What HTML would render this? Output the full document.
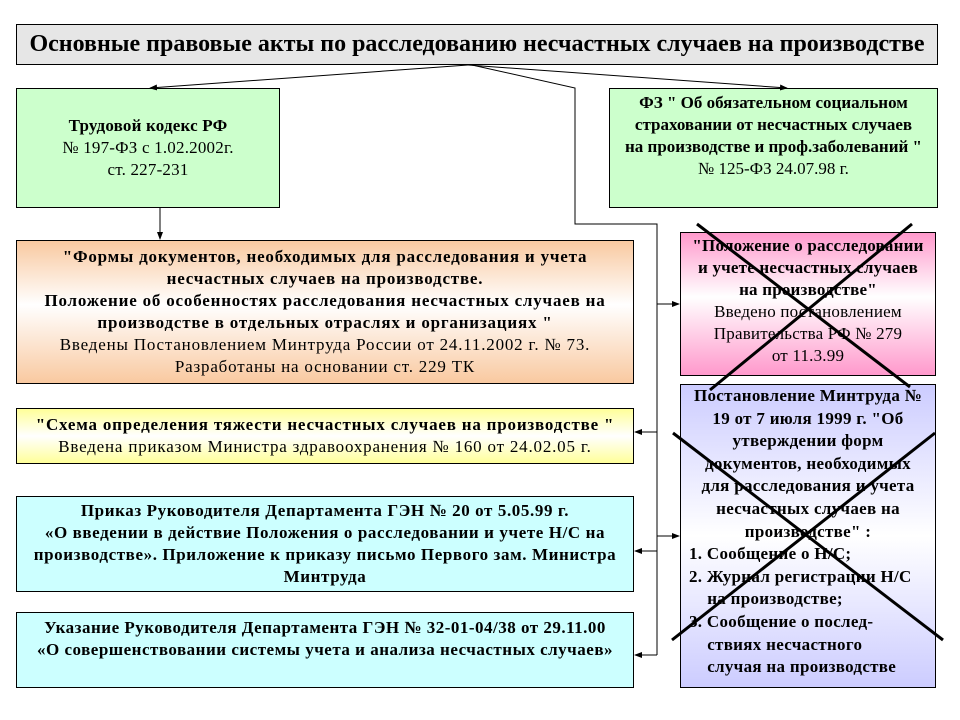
<!DOCTYPE html>
<html><head><meta charset="utf-8"><style>
body{margin:0;width:960px;height:720px;background:#fff;position:relative;font-family:"Liberation Serif","DejaVu Serif",serif;overflow:hidden}
.b{position:absolute;box-sizing:border-box;border:1px solid #000;text-align:center;font-size:17px;letter-spacing:0.8px;line-height:22px;color:#000;display:flex;flex-direction:column;justify-content:center;white-space:nowrap}
.g{background:#ccffcc}
b{font-weight:bold}
</style></head><body>
<div class="b" style="left:16px;top:24px;width:922px;height:41px;background:#e6e6e6;font-size:24px;letter-spacing:0px;font-weight:bold;display:block;line-height:38px">Основные правовые акты по расследованию несчастных случаев на производстве</div>
<div class="b g" style="left:16px;top:88px;width:264px;height:120px;letter-spacing:0.2px"><b>Трудовой кодекс РФ</b>№ 197-ФЗ с 1.02.2002г.<br>ст. 227-231</div>
<div class="b g" style="left:609px;top:88px;width:329px;height:120px;justify-content:flex-start;padding-top:3px;letter-spacing:0px"><b>ФЗ " Об обязательном социальном<br>страховании от несчастных случаев<br>на производстве и проф.заболеваний "</b>№ 125-ФЗ 24.07.98 г.</div>
<div class="b" style="left:16px;top:240px;width:618px;height:144px;background:linear-gradient(#f9c9a0,#fff 45%,#f9c9a0)"><b>"Формы документов, необходимых для расследования и учета<br>несчастных случаев на производстве.<br>Положение об особенностях расследования несчастных случаев на<br>производстве в отдельных отраслях и организациях "</b>Введены Постановлением Минтруда России от 24.11.2002 г. № 73.<br>Разработаны на основании ст. 229 ТК</div>
<div class="b" style="left:16px;top:408px;width:618px;height:56px;background:linear-gradient(#ffff99,#fff 50%,#ffff99)"><b>"Схема определения тяжести несчастных случаев на производстве "</b>Введена приказом Министра здравоохранения № 160 от 24.02.05 г.</div>
<div class="b" style="left:16px;top:496px;width:618px;height:96px;background:#ccffff;font-weight:bold;letter-spacing:0.6px">Приказ Руководителя Департамента ГЭН № 20 от 5.05.99 г.<br>«О введении в действие Положения о расследовании и учете Н/С на<br>производстве». Приложение к приказу письмо Первого зам. Министра<br>Минтруда</div>
<div class="b" style="left:16px;top:612px;width:618px;height:76px;background:#ccffff;font-weight:bold;justify-content:flex-start;padding-top:4px;letter-spacing:0.5px">Указание Руководителя Департамента ГЭН № 32-01-04/38 от 29.11.00<br>«О совершенствовании системы учета и анализа несчастных случаев»</div>
<div class="b" style="left:680px;top:232px;width:256px;height:144px;background:linear-gradient(#ff99cc,#fff 45%,#ff99cc);justify-content:flex-start;padding-top:2px;letter-spacing:0.2px"><b>"Положение о расследовании<br>и учете несчастных случаев<br>на производстве"</b>Введено постановлением<br>Правительства РФ № 279<br>от 11.3.99</div>
<div class="b" style="left:680px;top:384px;width:256px;height:304px;background:linear-gradient(#ccccff,#fff 50%,#ccccff);font-weight:bold;justify-content:flex-start;padding-top:0px;line-height:22.6px;letter-spacing:0.3px">Постановление Минтруда №<br>19 от 7 июля 1999 г. "Об<br>утверждении форм<br>документов, необходимых<br>для расследования и учета<br>несчастных случаев на<br>производстве" :
<div style="text-align:left;padding-left:8px">1. Сообщение о Н/С;<br>2. Журнал регистрации Н/С<br>&nbsp;&nbsp;&nbsp;&nbsp;на производстве;<br>3. Сообщение о послед-<br>&nbsp;&nbsp;&nbsp;&nbsp;ствиях несчастного<br>&nbsp;&nbsp;&nbsp;&nbsp;случая на производстве</div></div>
<svg width="960" height="720" style="position:absolute;left:0;top:0">
<defs><marker id="a" markerWidth="8" markerHeight="8" refX="7" refY="4" orient="auto"><path d="M0,1 L8,4 L0,7z" fill="#000"/></marker></defs>
<g stroke="#000" stroke-width="1" fill="none">
<line x1="468" y1="65" x2="150" y2="88" marker-end="url(#a)"/>
<line x1="468" y1="65" x2="787" y2="88" marker-end="url(#a)"/>
<polyline points="472,65 575,88 575,224 657,224 657,655"/>
<line x1="160" y1="208" x2="160" y2="239" marker-end="url(#a)"/>
<line x1="657" y1="304" x2="679" y2="304" marker-end="url(#a)"/>
<line x1="657" y1="432" x2="635" y2="432" marker-end="url(#a)"/>
<line x1="657" y1="536" x2="679" y2="536" marker-end="url(#a)"/>
<line x1="657" y1="551" x2="635" y2="551" marker-end="url(#a)"/>
<line x1="657" y1="655" x2="635" y2="655" marker-end="url(#a)"/>
</g>
<g stroke="#000" stroke-width="3">
<line x1="697" y1="224" x2="910" y2="387"/>
<line x1="912" y1="224" x2="710" y2="390"/>
<line x1="673" y1="433" x2="943" y2="640"/>
<line x1="935" y1="433" x2="672" y2="640"/>
</g></svg>
</body></html>
